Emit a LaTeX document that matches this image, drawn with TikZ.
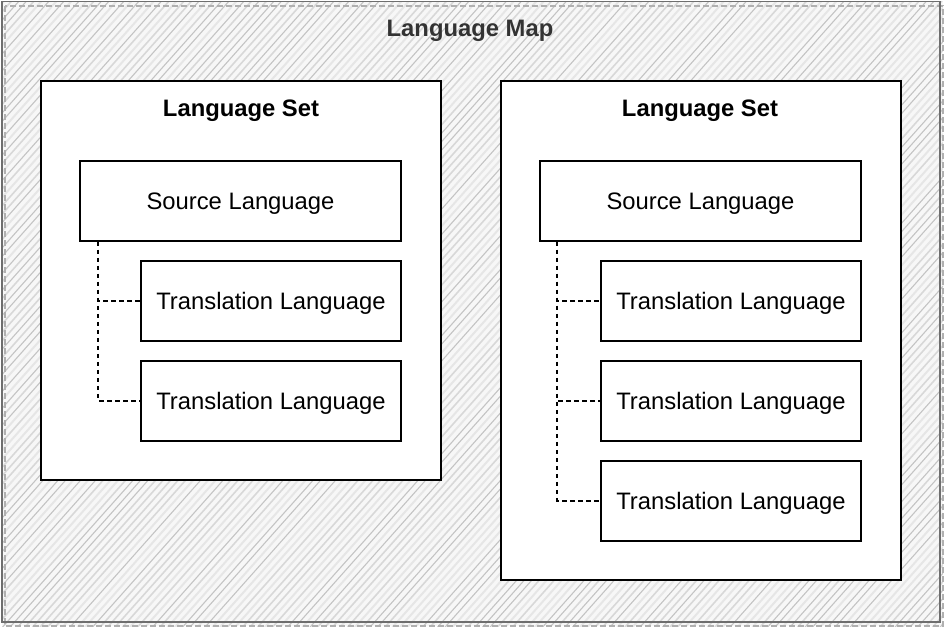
\documentclass[tikz,border=0pt]{standalone}
\usepackage{fontspec}
\setmainfont{Liberation Sans}
\usetikzlibrary{calc}
\definecolor{titlegray}{HTML}{333333}
\definecolor{framegray}{HTML}{6E6E6E}
\definecolor{dashgray}{HTML}{B0B0B0}
\definecolor{hatchA}{HTML}{C4C4C4}
\definecolor{hatchB}{HTML}{D8D8D8}
\definecolor{hatchC}{HTML}{E6E6E6}
\definecolor{hatchbg}{HTML}{F7F7F7}
\tikzset{
  setbox/.style={draw=black, line width=1.8pt, fill=white},
  langbox/.style={draw=black, line width=1.8pt, fill=white, inner sep=0pt,
    text depth=0pt, font=\fontsize{23.8}{28}\selectfont},
  settitle/.style={font=\fontsize{23.8}{28}\selectfont\bfseries, text=black, inner sep=0pt},
  maptitle/.style={font=\fontsize{23.8}{28}\selectfont\bfseries, text=titlegray, inner sep=0pt},
  conn/.style={draw=black, line width=1.3pt, dash pattern=on 4.5pt off 3.5pt},
}
\begin{document}
\begin{tikzpicture}[x=1pt, y=-1pt]
\useasboundingbox (0,0) rectangle (948,630);
\fill[white] (0,0) rectangle (948,630);
% hatching of the map area
\begin{scope}
  \clip (2,1) rectangle (943,626);
  \fill[hatchbg] (2,1) rectangle (943,626);
  \pgfmathsetseed{7}
  \foreach \i in {-600,-592.5,...,950} {
    \pgfmathrandominteger{\k}{1}{3}
    \ifcase\k\or
      \draw[hatchA, line width=1.1pt] (\i,630) -- (\i+560,0);
    \or
      \draw[hatchB, line width=1.6pt] (\i,630) -- (\i+560,0);
    \or
      \draw[hatchC, line width=2pt] (\i,630) -- (\i+560,0);
    \fi
  }
\end{scope}
% frame of the map
\draw[dashgray, line width=1.3pt, dash pattern=on 6pt off 3pt] (5,6) rectangle (943,626);
\draw[framegray, line width=1.8pt] (2,1.5) rectangle (940,622);
\node[maptitle] (maptitle) at (470,31) {Language Map};

% left language set
\node[setbox, minimum width=400pt, minimum height=399pt, inner sep=0pt] (setL) at (241,280.5) {};
\node[settitle] (setLtitle) at (241,111) {Language Set};
\node[langbox, minimum width=321pt, minimum height=80pt] (srcL) at (240.5,201) {Source Language};
\node[langbox, minimum width=260pt, minimum height=80pt] (trL1) at (271,301) {Translation Language};
\node[langbox, minimum width=260pt, minimum height=80pt] (trL2) at (271,401) {Translation Language};
\coordinate (busL) at ([xshift=19pt]srcL.south west);
\draw[conn] (busL) |- (trL2.west);
\draw[conn] (busL) |- (trL1.west);

% right language set
\node[setbox, minimum width=400pt, minimum height=499pt, inner sep=0pt] (setR) at (701,330.5) {};
\node[settitle] (setRtitle) at (700,111) {Language Set};
\node[langbox, minimum width=321pt, minimum height=80pt] (srcR) at (700.5,201) {Source Language};
\node[langbox, minimum width=260pt, minimum height=80pt] (trR1) at (731,301) {Translation Language};
\node[langbox, minimum width=260pt, minimum height=80pt] (trR2) at (731,401) {Translation Language};
\node[langbox, minimum width=260pt, minimum height=80pt] (trR3) at (731,501) {Translation Language};
\coordinate (busR) at ([xshift=18pt]srcR.south west);
\draw[conn] (busR) |- (trR3.west);
\draw[conn] (busR) |- (trR2.west);
\draw[conn] (busR) |- (trR1.west);
\end{tikzpicture}
\end{document}
